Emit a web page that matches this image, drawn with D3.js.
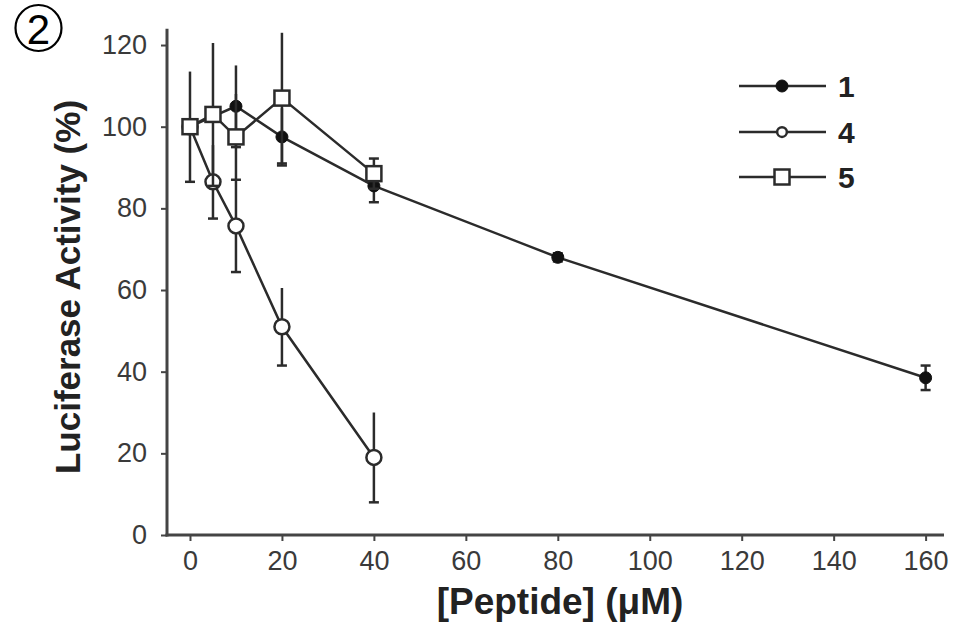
<!DOCTYPE html>
<html>
<head>
<meta charset="utf-8">
<script src="https://cdn.jsdelivr.net/npm/d3@7"></script>
<style>
  html, body { margin: 0; padding: 0; background: #fff; }
  svg { display: block; }
</style>
</head>
<body>
<svg id="chart" width="963" height="628"></svg>
<script>
// Peptide concentrations (µM) and luciferase activity (% of control) per peptide
const conc1 = [0, 10, 20, 40, 80, 160];
const act1  = [100, 105, 97.5, 85.5, 68, 38.5];
const err1  = [0, 10, 7, 4, 1, 3];

const conc4 = [0, 5, 10, 20, 40];
const act4  = [100, 86.5, 75.7, 51, 19];
const err4  = [0, 9, 11.3, 9.5, 11];

const conc5 = [0, 5, 10, 20, 40];
const act5  = [100, 103, 97.5, 107, 88.5];
const err5  = [13.5, 17.5, 10.5, 16, 3.7];

const xTicks = [0, 20, 40, 60, 80, 100, 120, 140, 160];
const yTicks = [0, 20, 40, 60, 80, 100, 120];
const legendLabels = ["1", "4", "5"];

const svg = d3.select("#chart");
const ink = "#2b2b2b";

const x = d3.scaleLinear().domain([-5, 164]).range([167, 944]);
const y = d3.scaleLinear().domain([0, 124]).range([535, 28.7]);

// axes
const yAxis = svg.append("g")
  .attr("transform", `translate(${x(-5)},0)`)
  .call(d3.axisLeft(y).tickValues(yTicks).tickSize(6).tickPadding(14).tickFormat(d3.format("d")));
const xAxis = svg.append("g")
  .attr("transform", `translate(0,${y(0)})`)
  .call(d3.axisBottom(x).tickValues(xTicks).tickSize(6).tickPadding(10).tickFormat(d3.format("d")));

[yAxis, xAxis].forEach(g => {
  g.select(".domain").remove();
  g.selectAll(".tick line").attr("stroke", "#444").attr("stroke-width", 2);
  g.selectAll(".tick text")
    .attr("fill", "#3a3a3a")
    .style("font-family", "'Liberation Sans', Arial, sans-serif")
    .style("font-size", "27px");
});

svg.append("line")
  .attr("x1", x(-5)).attr("x2", x(-5))
  .attr("y1", y(124)).attr("y2", y(0) + 1.5)
  .attr("stroke", "#444").attr("stroke-width", 3);
svg.append("line")
  .attr("x1", x(-5) - 1.5).attr("x2", x(164))
  .attr("y1", y(0)).attr("y2", y(0))
  .attr("stroke", "#444").attr("stroke-width", 3);

// axis titles
svg.append("text")
  .attr("x", 560).attr("y", 614)
  .attr("text-anchor", "middle")
  .attr("fill", "#222")
  .style("font-family", "'Liberation Sans', Arial, sans-serif")
  .style("font-weight", "bold")
  .style("font-size", "37px")
  .text("[Peptide] (μM)");

svg.append("text")
  .attr("transform", "translate(80,287) rotate(-90)")
  .attr("text-anchor", "middle")
  .attr("fill", "#222")
  .style("font-family", "'Liberation Sans', Arial, sans-serif")
  .style("font-weight", "bold")
  .style("font-size", "35px")
  .text("Luciferase Activity (%)");

// panel number
svg.append("circle")
  .attr("cx", 38.5).attr("cy", 28).attr("r", 23)
  .attr("fill", "none").attr("stroke", "#000").attr("stroke-width", 2.2);
svg.append("text")
  .attr("x", 38.5).attr("y", 44)
  .attr("text-anchor", "middle")
  .attr("fill", "#000")
  .style("font-family", "'Liberation Sans', Arial, sans-serif")
  .style("font-size", "42px")
  .text("2");

const series = [
  { xs: conc1, ys: act1, es: err1, marker: "dot" },
  { xs: conc4, ys: act4, es: err4, marker: "ring" },
  { xs: conc5, ys: act5, es: err5, marker: "square" }
];

function drawMarker(g, kind, cx, cy, scale) {
  const s = scale || 1;
  if (kind === "dot") {
    g.append("circle").attr("cx", cx).attr("cy", cy).attr("r", 6 * s)
      .attr("fill", "#111").attr("stroke", "#111").attr("stroke-width", 1);
  } else if (kind === "ring") {
    g.append("circle").attr("cx", cx).attr("cy", cy).attr("r", 7.5 * s)
      .attr("fill", "#fff").attr("stroke", ink).attr("stroke-width", 2.5);
  } else {
    const h = 7.5 * s;
    g.append("rect").attr("x", cx - h).attr("y", cy - h)
      .attr("width", 2 * h).attr("height", 2 * h)
      .attr("fill", "#fff").attr("stroke", ink).attr("stroke-width", 2.5);
  }
}

const line = d3.line().x(d => x(d[0])).y(d => y(d[1]));

function cap(g, cx, v) {
  g.append("line").attr("x1", cx - 5).attr("x2", cx + 5)
    .attr("y1", y(v)).attr("y2", y(v))
    .attr("stroke", ink).attr("stroke-width", 2.5);
}

series.forEach(s => {
  const g = svg.append("g");
  const pts = s.xs.map((c, i) => [c, s.ys[i], s.es[i]]);
  g.append("path").datum(pts).attr("d", line)
    .attr("fill", "none").attr("stroke", ink).attr("stroke-width", 2.5);
  pts.forEach(p => {
    if (!p[2]) return;
    const cx = x(p[0]);
    g.append("line").attr("x1", cx).attr("x2", cx)
      .attr("y1", y(p[1] + p[2])).attr("y2", y(p[1] - p[2]))
      .attr("stroke", ink).attr("stroke-width", 2.5);
    // long bars carry a cap only at the lower end; short ones at both ends
    cap(g, cx, p[1] - p[2]);
    if (p[2] < 5) cap(g, cx, p[1] + p[2]);
  });
  pts.forEach(p => drawMarker(g, s.marker, x(p[0]), y(p[1])));
});

// legend
const legend = svg.append("g");
const rowY = [86, 132, 177];
series.forEach((s, i) => {
  legend.append("line").attr("x1", 739).attr("x2", 826)
    .attr("y1", rowY[i]).attr("y2", rowY[i])
    .attr("stroke", ink).attr("stroke-width", 2.5);
  drawMarker(legend, s.marker, 782, rowY[i], s.marker === "ring" ? 0.65 : 1);
  legend.append("text")
    .attr("x", 838).attr("y", rowY[i] + 11)
    .attr("fill", "#222")
    .style("font-family", "'Liberation Sans', Arial, sans-serif")
    .style("font-weight", "bold")
    .style("font-size", "30px")
    .text(legendLabels[i]);
});
</script>
</body>
</html>
